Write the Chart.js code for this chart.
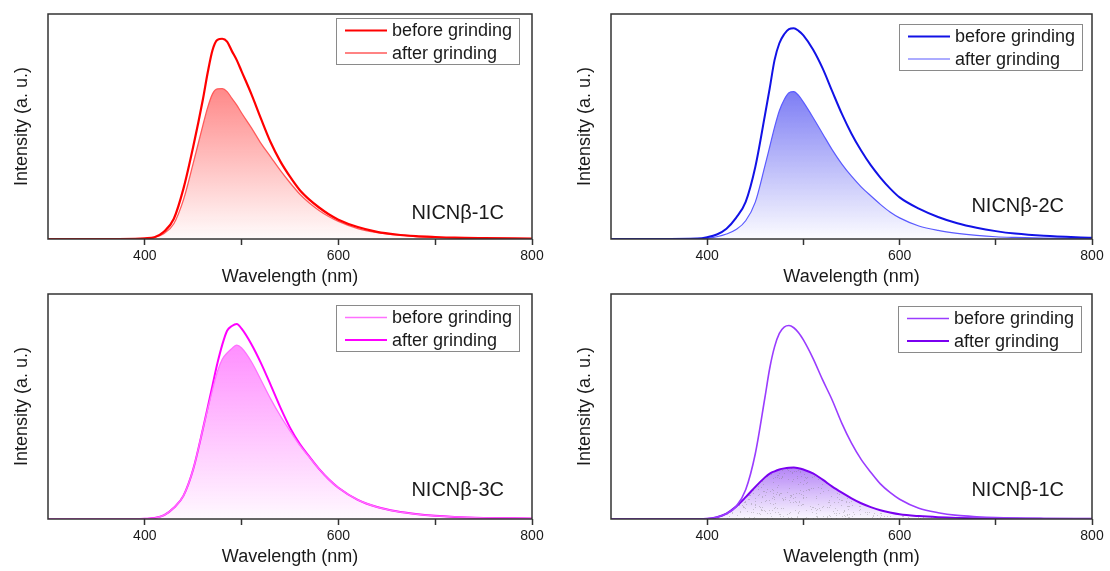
<!DOCTYPE html>
<html>
<head>
<meta charset="utf-8">
<script src="https://cdn.jsdelivr.net/npm/chart.js@4.4.0/dist/chart.umd.min.js"></script>
<style>
  body { margin: 0; background: #fff; width: 1110px; height: 571px; position: relative; overflow: hidden; }
  canvas { position: absolute; }
</style>
</head>
<body>
<canvas id="c1" width="555" height="290" style="left:0;top:0"></canvas>
<canvas id="c2" width="547" height="290" style="left:563px;top:0"></canvas>
<canvas id="c3" width="555" height="291" style="left:0;top:280px"></canvas>
<canvas id="c4" width="547" height="291" style="left:563px;top:280px"></canvas>
<script>
// wavelength grid (nm) shared by all spectra
const wavelength = [300, 350, 390, 400, 410, 420, 430, 440, 450, 460, 465, 470, 475, 480, 485, 490, 495, 500,
  510, 520, 530, 540, 550, 560, 570, 580, 590, 600, 620, 640, 660, 680, 700, 720, 750, 800];

// intensities, a.u. (% of plot height)
const nicn1Before = [0, 0, 0.1, 0.3, 0.8, 3.3, 9, 22.5, 41, 62, 74, 84, 88.5, 89, 87.7, 83.5, 79.5, 74.5,
  64.5, 53.5, 43, 34.5, 27.7, 21.8, 17.5, 14, 11, 8.6, 5.3, 3.2, 2, 1.3, 0.9, 0.6, 0.4, 0.2];
const nicn1After = [0, 0, 0.1, 0.2, 0.7, 2.5, 6.8, 17.5, 33.6, 50.5, 58.5, 64.5, 66.7, 66.8, 65.5, 62.5, 59.5, 56,
  49.5, 42.5, 36.5, 30.5, 25, 20, 16, 12.7, 10, 7.8, 4.6, 2.8, 1.7, 1.1, 0.7, 0.5, 0.3, 0.1];

const nicn2Before = [0, 0, 0.2, 0.8, 2, 4.6, 9.4, 16.5, 32, 55, 67, 79.5, 87, 91, 93.3, 93.7, 92.5, 90.5,
  84.2, 75.8, 65.6, 55.6, 46.8, 39.3, 32.8, 27.3, 22.5, 18.5, 13.5, 9.8, 7, 5, 3.5, 2.4, 1.4, 0.5];
const nicn2After = [0, 0, 0, 0.3, 1, 2.2, 4.2, 8.1, 16.4, 32.5, 41, 49.6, 57, 61.9, 65, 65.5, 63.8, 60.8,
  54, 46.8, 39.6, 33.3, 27.9, 23.2, 19.2, 15.4, 12, 9.4, 5.8, 3.8, 2.5, 1.6, 1, 0.7, 0.4, 0.2];

const nicn3Before = [0, 0, 0, 0.1, 0.4, 1.7, 5, 10.4, 22.1, 40, 49, 57.5, 65.5, 71, 73.8, 75.8, 77.3, 76,
  70, 61.8, 53.4, 45.9, 39.2, 32.8, 27.5, 22.3, 17.7, 13.9, 8.5, 5.3, 3.4, 2.2, 1.4, 0.9, 0.5, 0.2];
const nicn3After = [0, 0, 0, 0.1, 0.4, 1.7, 5, 10.4, 22.1, 40, 49.7, 59.5, 69.2, 77.4, 83.7, 85.8, 86.7, 84.6,
  77.8, 69.3, 59.6, 49.6, 40.6, 33.4, 27.7, 22.3, 17.7, 13.9, 8.5, 5.3, 3.4, 2.2, 1.4, 0.9, 0.5, 0.2];

const nicn1bBefore = [0, 0, 0, 0.1, 0.8, 2.4, 5.5, 13, 29, 54, 67, 76.5, 82.5, 85.3, 86, 85, 82.8, 79.6,
  71.4, 61.8, 52.8, 42.5, 33.7, 26.5, 20.8, 15.6, 11.8, 8.8, 4.8, 2.8, 1.6, 1, 0.6, 0.4, 0.25, 0.1];
const nicn1bAfter = [0, 0, 0, 0.1, 0.8, 2.4, 5.5, 9.7, 14.3, 18.5, 20.2, 21.2, 22, 22.5, 22.8, 22.9, 22.6, 22,
  20.3, 17.5, 14.4, 11.7, 9.2, 7, 5.3, 3.9, 2.9, 2.1, 1.3, 0.8, 0.5, 0.35, 0.25, 0.2, 0.1, 0.1];

const seriesLabels = ['before grinding', 'after grinding'];
const panelNames = ['NICNβ-1C', 'NICNβ-2C', 'NICNβ-3C', 'NICNβ-1C'];
const xTicks = [400, 500, 600, 700, 800];
const xLabeled = [400, 600, 800];

const FONT = 'Arial, "Liberation Sans", sans-serif';
const TXT = '#1a1a1a';

function pts(vals) {
  return wavelength.map((w, i) => ({ x: w, y: vals[i] }));
}

// integer hash for the dot texture
function hash(x, y) {
  let n = (Math.imul(x, 374761393) + Math.imul(y, 668265263)) | 0;
  n = Math.imul(n ^ (n >>> 13), 1274126177);
  n ^= n >>> 16;
  return (n >>> 0) / 4294967296;
}

// vertical fade under a curve, from its peak down to the baseline
// (speckle = grey dot texture like the last panel of the original)
function fade(rgb, a0, a1, speckle) {
  let cached = null;
  return (ctx) => {
    const chart = ctx.chart;
    const area = chart.chartArea;
    if (!area) return null;
    if (cached) return cached;
    const peak = Math.max(...ctx.dataset.data.map(p => p.y));
    const top = chart.scales.y.getPixelForValue(peak);
    const off = document.createElement('canvas');
    off.width = chart.width;
    off.height = chart.height;
    const o = off.getContext('2d');
    const g = o.createLinearGradient(0, top, 0, area.bottom);
    g.addColorStop(0, `rgba(${rgb},${a0})`);
    g.addColorStop(1, `rgba(${rgb},${a1})`);
    o.fillStyle = g;
    o.fillRect(0, 0, off.width, off.height);
    if (speckle) {
      o.fillStyle = 'rgba(120,120,120,0.35)';
      for (let y = Math.floor(top); y < area.bottom; y++) {
        for (let x = Math.floor(area.left); x < area.right; x++) {
          if (hash(x, y) < 0.06) o.fillRect(x, y, 1, 1);
        }
      }
    }
    cached = chart.ctx.createPattern(off, 'no-repeat');
    return cached;
  };
}

const framePlugin = {
  id: 'frame',
  afterDatasetsDraw(chart) {
    const c = chart.ctx, a = chart.chartArea;
    c.save();
    c.strokeStyle = '#333';
    c.lineWidth = 1.5;
    c.strokeRect(a.left, a.top, a.right - a.left, a.bottom - a.top);
    c.restore();
  }
};

const boxLegend = {
  id: 'boxLegend',
  afterDraw(chart, args, o) {
    const c = chart.ctx, a = chart.chartArea;
    const w = 183, h = 46;
    const x0 = Math.round(a.right - o.right - w), y0 = Math.round(a.top + o.top);
    c.save();
    c.fillStyle = '#fff';
    c.fillRect(x0, y0, w, h);
    c.strokeStyle = '#8a8a8a';
    c.lineWidth = 1;
    c.strokeRect(x0 + 0.5, y0 + 0.5, w, h);
    c.font = '18px ' + FONT;
    c.textBaseline = 'middle';
    chart.data.datasets.forEach((d, i) => {
      const y = y0 + 12.5 + i * 22.5;
      c.strokeStyle = d.borderColor;
      c.lineWidth = d.borderWidth;
      c.beginPath();
      c.moveTo(x0 + 9, y);
      c.lineTo(x0 + 51, y);
      c.stroke();
      c.fillStyle = TXT;
      c.fillText(d.label, x0 + 56, y + 1);
    });
    c.restore();
  }
};

const nameTag = {
  id: 'nameTag',
  afterDraw(chart, args, o) {
    const c = chart.ctx, a = chart.chartArea;
    c.save();
    c.font = '20px ' + FONT;
    c.fillStyle = TXT;
    c.textAlign = 'right';
    c.textBaseline = 'middle';
    c.fillText(o.text, a.right - 28, a.bottom - o.dy);
    c.restore();
  }
};

function makeChart(id, cfg) {
  const el = document.getElementById(id);
  const H = el.height;
  const ds = cfg.series.map((s, i) => ({
    label: seriesLabels[i],
    data: pts(s.values),
    borderColor: s.color,
    borderWidth: s.width,
    pointRadius: 0,
    cubicInterpolationMode: 'monotone',
    fill: s.fill ? 'origin' : false,
    backgroundColor: s.fill ? fade(...s.fill) : 'transparent'
  }));
  return new Chart(el, {
    type: 'line',
    data: { datasets: ds },
    plugins: [framePlugin, boxLegend, nameTag],
    options: {
      responsive: false,
      animation: false,
      layout: { padding: { left: 0, top: 14, right: cfg.padRight, bottom: 0 } },
      plugins: {
        legend: { display: false },
        tooltip: { enabled: false },
        boxLegend: cfg.legend,
        nameTag: { text: cfg.name, dy: cfg.nameDy }
      },
      scales: {
        x: {
          type: 'linear',
          min: 300,
          max: 800,
          afterBuildTicks: (s) => { s.ticks = xTicks.map(v => ({ value: v })); },
          afterFit: (s) => { s.height = H - 239; },
          border: { display: false },
          grid: { drawOnChartArea: false, drawTicks: true, tickLength: 6, tickColor: '#333', tickWidth: 1.5 },
          ticks: {
            autoSkip: false,
            maxRotation: 0,
            padding: 3,
            color: TXT,
            font: { family: FONT, size: 14 },
            callback: (v) => xLabeled.includes(v) ? String(v) : ''
          },
          title: {
            display: true,
            text: 'Wavelength (nm)',
            color: TXT,
            font: { family: FONT, size: 18 },
            padding: { top: 0, bottom: H - 290 + 2 }
          }
        },
        y: {
          min: 0,
          max: 100,
          afterFit: (s) => { s.width = 48; },
          border: { display: false },
          grid: { display: false },
          ticks: { display: false },
          title: {
            display: true,
            text: 'Intensity (a. u.)',
            color: TXT,
            font: { family: FONT, size: 18 },
            padding: { top: 11, bottom: 0 }
          }
        }
      }
    }
  });
}

makeChart('c1', {
  padRight: 23, name: panelNames[0], nameDy: 26, legend: { top: 4, right: 13 },
  series: [
    { values: nicn1Before, color: '#ff0000', width: 2.2 },
    { values: nicn1After, color: '#ff5a5a', width: 1.3, fill: ['255,40,40', 0.55, 0.02] }
  ]
});
makeChart('c2', {
  padRight: 18, name: panelNames[1], nameDy: 33, legend: { top: 10, right: 10 },
  series: [
    { values: nicn2Before, color: '#1212e6', width: 2 },
    { values: nicn2After, color: '#5a5aff', width: 1.2, fill: ['70,70,240', 0.7, 0.02] }
  ]
});
makeChart('c3', {
  padRight: 23, name: panelNames[2], nameDy: 29, legend: { top: 10.5, right: 13 },
  series: [
    { values: nicn3Before, color: '#ff70ff', width: 1.3, fill: ['255,50,255', 0.55, 0.03] },
    { values: nicn3After, color: '#ff00ff', width: 2 }
  ]
});
makeChart('c4', {
  padRight: 18, name: panelNames[3], nameDy: 29, legend: { top: 11.5, right: 11 },
  series: [
    { values: nicn1bBefore, color: '#9a3cff', width: 1.6 },
    { values: nicn1bAfter, color: '#7a00f0', width: 2, fill: ['130,50,240', 0.6, 0.03, true] }
  ]
});
</script>
</body>
</html>
